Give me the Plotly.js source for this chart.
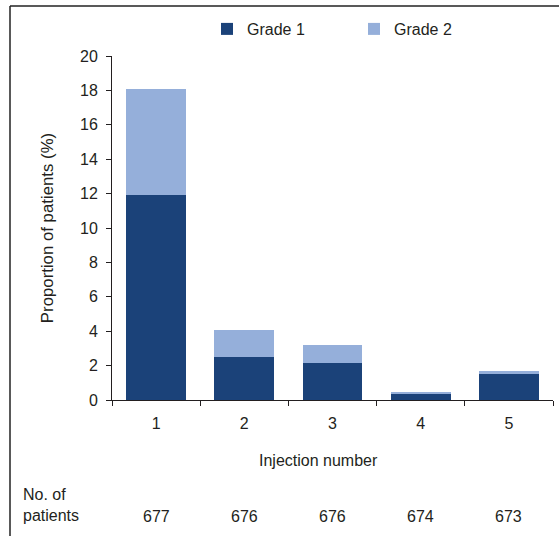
<!DOCTYPE html>
<html>
<head>
<meta charset="utf-8">
<script src="https://cdn.plot.ly/plotly-3.0.1.min.js"></script>
<style>html,body{margin:0;padding:0;background:#fff;}#chart{width:559px;height:536px;}</style>
</head>
<body>
<div id="chart"></div>
<script>
const injections = ['1', '2', '3', '4', '5'];
const grade1 = [11.9, 2.5, 2.15, 0.35, 1.5];
const grade2 = [6.2, 1.57, 1.05, 0.1, 0.18];
const patients = [677, 676, 676, 674, 673];
const yTicks = [0, 2, 4, 6, 8, 10, 12, 14, 16, 18, 20];

const W = 559, H = 536;
const L = 112, R = 6, T = 56, B = 136;
const pw = W - L - R, ph = H - T - B;
const px = v => (v - L) / pw;
const py = v => (H - B - v) / ph;

const txt = '#231f20';
const font = {family: 'Liberation Sans, Arial, sans-serif', size: 16, color: txt};

const traces = [
  {type: 'bar', name: 'Grade 1', x: injections, y: grade1, marker: {color: '#1b4279'}},
  {type: 'bar', name: 'Grade 2', x: injections, y: grade2, marker: {color: '#95afda'}}
];

const annotations = patients.map((n, i) => ({
  x: i, xref: 'x', y: py(516), yref: 'paper',
  text: String(n), showarrow: false, font: font, xanchor: 'center', yanchor: 'middle'
}));
annotations.push({
  x: px(21), xref: 'paper', y: py(505), yref: 'paper',
  text: 'No. of<br>patients', showarrow: false, font: font, xanchor: 'left', yanchor: 'middle', align: 'left'
});
annotations.push({
  x: px(318), xref: 'paper', y: py(460), yref: 'paper',
  text: 'Injection number', showarrow: false, font: font, xanchor: 'center', yanchor: 'middle'
});

const layout = {
  width: W, height: H,
  margin: {l: L, r: R, t: T, b: B, pad: 0},
  paper_bgcolor: '#fff', plot_bgcolor: '#fff',
  font: font,
  barmode: 'stack',
  bargap: 0.32,
  showlegend: true,
  legend: {
    orientation: 'h', x: px(207), xanchor: 'left', y: py(29), yanchor: 'middle',
    font: font, entrywidth: 102, entrywidthmode: 'pixels', traceorder: 'normal',
    bgcolor: 'rgba(0,0,0,0)'
  },
  xaxis: {
    type: 'category', range: [-0.5, 4.5], tickson: 'boundaries', ticks: 'outside', ticklen: 5, tickcolor: txt,
    showline: true, linecolor: txt, linewidth: 1, showgrid: false, zeroline: false,
    tickfont: font, ticklabelstandoff: 9
  },
  yaxis: {
    range: [0, 20], tickvals: yTicks, ticktext: yTicks.map(String),
    ticks: 'outside', ticklen: 5, tickcolor: txt,
    showline: true, linecolor: txt, linewidth: 1, showgrid: false, zeroline: false,
    tickfont: font, ticklabelstandoff: 5,
    title: {text: 'Proportion of patients (%)', font: {family: font.family, size: 16.8, color: txt}, standoff: 22}
  },
  shapes: [
    {type: 'line', xref: 'paper', yref: 'paper', x0: px(10), x1: px(560), y0: py(6), y1: py(6), line: {color: '#222', width: 1.5}},
    {type: 'line', xref: 'paper', yref: 'paper', x0: px(10), x1: px(10), y0: py(6), y1: py(537), line: {color: '#222', width: 1.5}}
  ],
  annotations: annotations
};

Plotly.newPlot('chart', traces, layout, {displayModeBar: false, staticPlot: true});
</script>
</body>
</html>
